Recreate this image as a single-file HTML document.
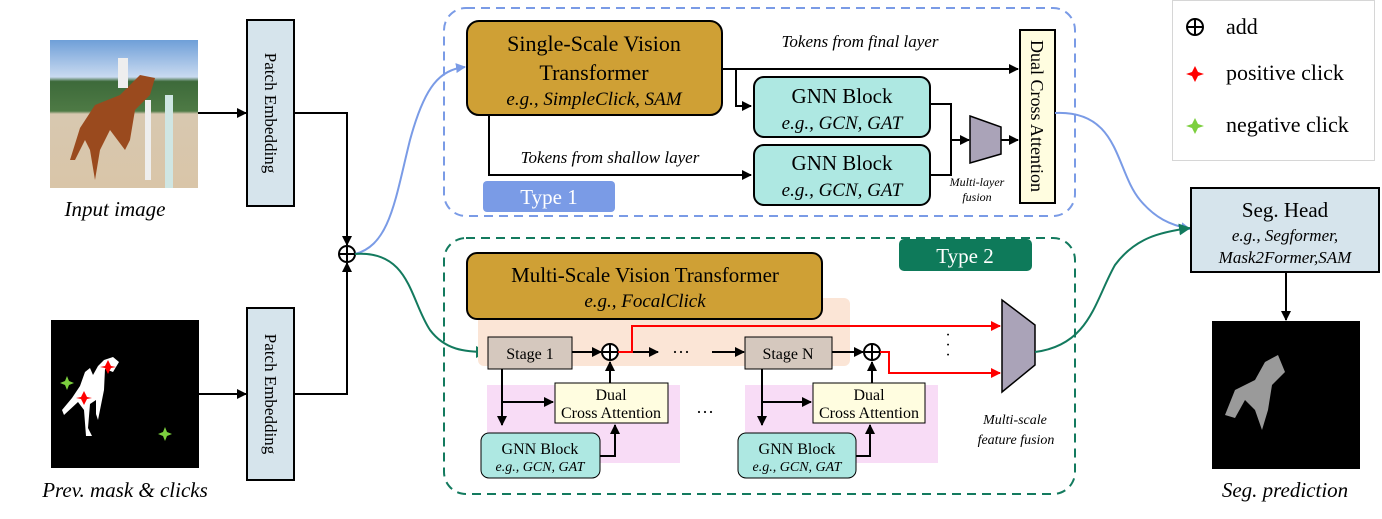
<!DOCTYPE html>
<html><head><meta charset="utf-8"><style>
html,body{margin:0;padding:0;background:#fff;}
svg{display:block;}
text{font-family:"Liberation Serif",serif;fill:#000;}
.it{font-style:italic;}
</style></head><body>
<svg width="1382" height="519" viewBox="0 0 1382 519" xmlns="http://www.w3.org/2000/svg">
<defs>
<marker id="ab" markerWidth="10" markerHeight="10" refX="9" refY="5" orient="auto" markerUnits="userSpaceOnUse"><path d="M0,0 L10,5 L0,10 z" fill="#000"/></marker>
<marker id="ar" markerWidth="10" markerHeight="10" refX="9" refY="5" orient="auto" markerUnits="userSpaceOnUse"><path d="M0,0 L10,5 L0,10 z" fill="#f00"/></marker>
<marker id="abl" markerWidth="10" markerHeight="10" refX="9" refY="5" orient="auto" markerUnits="userSpaceOnUse"><path d="M0,0 L10,5 L0,10 z" fill="#7a9be6"/></marker>
<marker id="ag" markerWidth="12" markerHeight="12" refX="11" refY="6" orient="auto" markerUnits="userSpaceOnUse"><path d="M0,0 L12,6 L0,12 z" fill="#137a5e"/></marker>
<linearGradient id="sky" x1="0" y1="0" x2="0" y2="1">
<stop offset="0" stop-color="#6f9fd8"/><stop offset="0.25" stop-color="#c9daf0"/><stop offset="0.28" stop-color="#3d6a3a"/><stop offset="0.48" stop-color="#4e7a45"/><stop offset="0.5" stop-color="#d8c8b0"/><stop offset="1" stop-color="#d9c5a8"/>
</linearGradient>
</defs>

<!-- input image -->
<rect x="50" y="40" width="148" height="148" fill="url(#sky)"/>
<path d="M70,160 L80,128 L95,105 L120,95 L140,75 L155,78 L150,95 L135,110 L130,140 L125,150 L110,130 L100,150 L95,180 L90,150 L85,140 L75,160 Z" fill="#9a4a1e"/>
<rect x="118" y="58" width="10" height="30" fill="#eee"/>
<rect x="165" y="95" width="8" height="93" fill="#cfe6e3"/>
<rect x="145" y="100" width="6" height="80" fill="#eee"/>
<text x="115" y="216" font-size="21" text-anchor="middle" class="it">Input image</text>

<!-- mask -->
<rect x="51" y="320" width="148" height="148" fill="#000"/>
<path d="M113,357 L119,362 L113,372 L105,369 L104,390 L100,410 L98,420 L96,414 L96,400 L90,404 L88,428 L92,436 L86,436 L84,410 L78,402 L64,415 L62,410 L72,398 L80,386 L85,372 L90,368 L93,375 L98,366 L104,360 Z" fill="#fff"/>
<path d="M108,360 l3,6 l5,1 l-5,1 l-3,6 l-3,-6 l-5,-1 l5,-1 z" fill="#f00"/>
<path d="M84,391 l3,6 l5,1 l-5,1 l-3,6 l-3,-6 l-5,-1 l5,-1 z" fill="#f00"/>
<path d="M67,376 l2,5 l5,2 l-5,2 l-2,5 l-2,-5 l-5,-2 l5,-2 z" fill="#7ccf3e"/>
<path d="M165,427 l2,5 l5,2 l-5,2 l-2,5 l-2,-5 l-5,-2 l5,-2 z" fill="#7ccf3e"/>
<text x="125" y="497" font-size="21" text-anchor="middle" class="it">Prev. mask &amp; clicks</text>

<!-- patch embeddings -->
<rect x="247" y="20" width="47" height="186" fill="#d6e4ec" stroke="#000" stroke-width="2"/>
<text transform="translate(265,113) rotate(90)" font-size="17" text-anchor="middle">Patch Embedding</text>
<rect x="247" y="308" width="47" height="172" fill="#d6e4ec" stroke="#000" stroke-width="2"/>
<text transform="translate(265,394) rotate(90)" font-size="17" text-anchor="middle">Patch Embedding</text>
<line x1="198" y1="113" x2="246" y2="113" stroke="#000" stroke-width="2" marker-end="url(#ab)"/>
<line x1="199" y1="394" x2="246" y2="394" stroke="#000" stroke-width="2" marker-end="url(#ab)"/>
<polyline points="294,113 347,113 347,245" fill="none" stroke="#000" stroke-width="2" marker-end="url(#ab)"/>
<polyline points="294,394 347,394 347,263" fill="none" stroke="#000" stroke-width="2" marker-end="url(#ab)"/>
<circle cx="347" cy="254" r="8" fill="#fff" stroke="#000" stroke-width="2"/>
<line x1="339" y1="254" x2="355" y2="254" stroke="#000" stroke-width="2"/><line x1="347" y1="246" x2="347" y2="262" stroke="#000" stroke-width="2"/>
<path d="M355,254 C390,245 395,200 410,140 C425,85 440,70 465,67" fill="none" stroke="#7a9be6" stroke-width="2" marker-end="url(#abl)"/>
<path d="M355,254 C410,250 410,300 430,330 C445,350 465,352 487,352" fill="none" stroke="#137a5e" stroke-width="2" marker-end="url(#ag)"/>

<!-- Type 1 -->
<rect x="444" y="8" width="631" height="208" rx="22" fill="none" stroke="#7a9be6" stroke-width="2" stroke-dasharray="9,6"/>
<rect x="467" y="21" width="255" height="94" rx="12" fill="#cfa035" stroke="#000" stroke-width="2"/>
<text x="594" y="51" font-size="22" text-anchor="middle">Single-Scale Vision</text>
<text x="594" y="80" font-size="22" text-anchor="middle">Transformer</text>
<text x="594" y="105" font-size="19" text-anchor="middle" class="it">e.g., SimpleClick, SAM</text>
<line x1="722" y1="69" x2="1018" y2="69" stroke="#000" stroke-width="2" marker-end="url(#ab)"/>
<text x="860" y="47" font-size="17" text-anchor="middle" class="it">Tokens from final layer</text>
<polyline points="736,69 736,106 751,106" fill="none" stroke="#000" stroke-width="2" marker-end="url(#ab)"/>
<polyline points="489,115 489,175 751,175" fill="none" stroke="#000" stroke-width="2" marker-end="url(#ab)"/>
<text x="610" y="163" font-size="17" text-anchor="middle" class="it">Tokens from shallow layer</text>
<rect x="754" y="77" width="176" height="60" rx="10" fill="#aee8e2" stroke="#000" stroke-width="2"/>
<text x="842" y="103" font-size="21" text-anchor="middle">GNN Block</text>
<text x="842" y="129" font-size="19" text-anchor="middle" class="it">e.g., GCN, GAT</text>
<rect x="754" y="145" width="176" height="60" rx="10" fill="#aee8e2" stroke="#000" stroke-width="2"/>
<text x="842" y="170" font-size="21" text-anchor="middle">GNN Block</text>
<text x="842" y="196" font-size="19" text-anchor="middle" class="it">e.g., GCN, GAT</text>
<polyline points="930,104 951,104 951,175 930,175" fill="none" stroke="#000" stroke-width="2"/>
<line x1="951" y1="140" x2="969" y2="140" stroke="#000" stroke-width="2" marker-end="url(#ab)"/>
<polygon points="970,116 1001,127 1001,154 970,163" fill="#aaa3b8" stroke="#000" stroke-width="1.5"/>
<line x1="1001" y1="140" x2="1018" y2="140" stroke="#000" stroke-width="2" marker-end="url(#ab)"/>
<text x="977" y="186" font-size="12" text-anchor="middle" class="it">Multi-layer</text>
<text x="977" y="201" font-size="12" text-anchor="middle" class="it">fusion</text>
<rect x="1020" y="30" width="35" height="173" fill="#fffde0" stroke="#000" stroke-width="2"/>
<text transform="translate(1031,116) rotate(90)" font-size="18" text-anchor="middle">Dual Cross Attention</text>
<rect x="483" y="181" width="132" height="31" rx="4" fill="#7a9be6"/>
<text x="549" y="204" font-size="21" text-anchor="middle" style="fill:#fff">Type 1</text>

<!-- Type 2 -->
<rect x="444" y="238" width="631" height="256" rx="22" fill="none" stroke="#137a5e" stroke-width="2" stroke-dasharray="9,6"/>
<rect x="899" y="239" width="133" height="32" rx="5" fill="#0e7a5a"/>
<text x="965" y="263" font-size="21" text-anchor="middle" style="fill:#fff">Type 2</text>
<rect x="478" y="298" width="372" height="68" rx="6" fill="#fbe5d6"/>
<rect x="467" y="253" width="355" height="66" rx="10" fill="#cfa035" stroke="#000" stroke-width="2"/>
<text x="645" y="282" font-size="21" text-anchor="middle">Multi-Scale Vision Transformer</text>
<text x="645" y="307" font-size="19" text-anchor="middle" class="it">e.g., FocalClick</text>
<rect x="487" y="385" width="193" height="78" fill="#f8dcf6"/>
<rect x="745" y="385" width="193" height="78" fill="#f8dcf6"/>

<rect x="488" y="337" width="84" height="32" fill="#d5c8be" stroke="#000" stroke-width="1"/>
<text x="530" y="359" font-size="16" text-anchor="middle">Stage 1</text>
<line x1="572" y1="352" x2="601" y2="352" stroke="#000" stroke-width="2" marker-end="url(#ab)"/>
<circle cx="610" cy="352" r="8" fill="#fff" stroke="#000" stroke-width="2"/>
<line x1="602" y1="352" x2="618" y2="352" stroke="#000" stroke-width="2"/><line x1="610" y1="344" x2="610" y2="360" stroke="#000" stroke-width="2"/>
<line x1="618" y1="352" x2="658" y2="352" stroke="#000" stroke-width="2" marker-end="url(#ab)"/>
<text x="681" y="358" font-size="18" text-anchor="middle">···</text>
<line x1="712" y1="352" x2="744" y2="352" stroke="#000" stroke-width="2" marker-end="url(#ab)"/>
<rect x="745" y="337" width="87" height="32" fill="#d5c8be" stroke="#000" stroke-width="1"/>
<text x="788" y="359" font-size="16" text-anchor="middle">Stage N</text>
<line x1="832" y1="352" x2="863" y2="352" stroke="#000" stroke-width="2" marker-end="url(#ab)"/>
<circle cx="872" cy="352" r="8" fill="#fff" stroke="#000" stroke-width="2"/>
<line x1="864" y1="352" x2="880" y2="352" stroke="#000" stroke-width="2"/><line x1="872" y1="344" x2="872" y2="360" stroke="#000" stroke-width="2"/>
<polyline points="618,352 632,352 632,326 1000,326" fill="none" stroke="#f00" stroke-width="2" marker-end="url(#ar)"/>
<polyline points="880,352 889,352 889,373 1000,373" fill="none" stroke="#f00" stroke-width="2" marker-end="url(#ar)"/>
<text x="948" y="340" font-size="16" text-anchor="middle">·</text>
<text x="948" y="350" font-size="16" text-anchor="middle">·</text>
<text x="948" y="360" font-size="16" text-anchor="middle">·</text>
<polygon points="1002,300 1035,325 1035,365 1002,392" fill="#aaa3b8" stroke="#000" stroke-width="1.5"/>
<text x="1015" y="424" font-size="14" text-anchor="middle" class="it">Multi-scale</text>
<text x="1016" y="444" font-size="14" text-anchor="middle" class="it">feature fusion</text>
<text x="705" y="418" font-size="18" text-anchor="middle">···</text>

<!-- sub-blocks 1 -->
<polyline points="502,369 502,425" fill="none" stroke="#000" stroke-width="2" marker-end="url(#ab)"/>
<line x1="502" y1="402" x2="553" y2="402" stroke="#000" stroke-width="2" marker-end="url(#ab)"/>
<rect x="555" y="383" width="113" height="40" fill="#fffde0" stroke="#000" stroke-width="1"/>
<text x="611" y="400" font-size="16" text-anchor="middle">Dual</text>
<text x="611" y="418" font-size="16" text-anchor="middle">Cross Attention</text>
<line x1="610" y1="383" x2="610" y2="362" stroke="#000" stroke-width="2" marker-end="url(#ab)"/>
<rect x="481" y="433" width="119" height="45" rx="8" fill="#aee8e2" stroke="#000" stroke-width="1"/>
<text x="540" y="454" font-size="16" text-anchor="middle">GNN Block</text>
<text x="540" y="471" font-size="14" text-anchor="middle" class="it">e.g., GCN, GAT</text>
<polyline points="600,456 615,456 615,425" fill="none" stroke="#000" stroke-width="2" marker-end="url(#ab)"/>

<!-- sub-blocks N -->
<polyline points="762,369 762,425" fill="none" stroke="#000" stroke-width="2" marker-end="url(#ab)"/>
<line x1="762" y1="402" x2="811" y2="402" stroke="#000" stroke-width="2" marker-end="url(#ab)"/>
<rect x="813" y="383" width="112" height="40" fill="#fffde0" stroke="#000" stroke-width="1"/>
<text x="869" y="400" font-size="16" text-anchor="middle">Dual</text>
<text x="869" y="418" font-size="16" text-anchor="middle">Cross Attention</text>
<line x1="872" y1="383" x2="872" y2="362" stroke="#000" stroke-width="2" marker-end="url(#ab)"/>
<rect x="738" y="433" width="118" height="45" rx="8" fill="#aee8e2" stroke="#000" stroke-width="1"/>
<text x="797" y="454" font-size="16" text-anchor="middle">GNN Block</text>
<text x="797" y="471" font-size="14" text-anchor="middle" class="it">e.g., GCN, GAT</text>
<polyline points="856,456 870,456 870,425" fill="none" stroke="#000" stroke-width="2" marker-end="url(#ab)"/>

<!-- connections to seg head -->
<path d="M1055,113 C1120,110 1115,170 1140,200 C1155,218 1170,225 1190,229" fill="none" stroke="#7a9be6" stroke-width="2" marker-end="url(#abl)"/>
<path d="M1035,352 C1090,345 1095,300 1115,265 C1135,238 1160,232 1190,228" fill="none" stroke="#137a5e" stroke-width="2" marker-end="url(#ag)"/>

<!-- legend -->
<rect x="1172.5" y="0.5" width="202" height="160" fill="#fff" stroke="#d6d6d6" stroke-width="1"/>
<circle cx="1195" cy="27" r="8" fill="none" stroke="#000" stroke-width="2"/>
<line x1="1187" y1="27" x2="1203" y2="27" stroke="#000" stroke-width="2"/><line x1="1195" y1="19" x2="1195" y2="35" stroke="#000" stroke-width="2"/>
<text x="1226" y="34" font-size="22">add</text>
<path d="M1195,66 l3,6 l6,2 l-6,2 l-3,6 l-3,-6 l-6,-2 l6,-2 z" fill="#f00"/>
<text x="1226" y="80" font-size="22">positive click</text>
<path d="M1195,118 l3,6 l6,2 l-6,2 l-3,6 l-3,-6 l-6,-2 l6,-2 z" fill="#7ccf3e"/>
<text x="1226" y="132" font-size="22">negative click</text>

<!-- seg head -->
<rect x="1191" y="188" width="188" height="84" fill="#d6e4ec" stroke="#000" stroke-width="2"/>
<text x="1285" y="217" font-size="21" text-anchor="middle">Seg. Head</text>
<text x="1285" y="241" font-size="17" text-anchor="middle" class="it">e.g., Segformer,</text>
<text x="1285" y="263" font-size="17" text-anchor="middle" class="it">Mask2Former,SAM</text>
<line x1="1286" y1="272" x2="1286" y2="320" stroke="#000" stroke-width="2" marker-end="url(#ab)"/>
<rect x="1212" y="321" width="148" height="148" fill="#000"/>
<path d="M1225,415 L1235,390 L1255,380 L1265,362 L1278,355 L1285,372 L1272,385 L1268,410 L1262,430 L1255,410 L1245,400 L1235,418 Z" fill="#9a9a9a"/>
<text x="1285" y="497" font-size="21" text-anchor="middle" class="it">Seg. prediction</text>
</svg>
</body></html>
